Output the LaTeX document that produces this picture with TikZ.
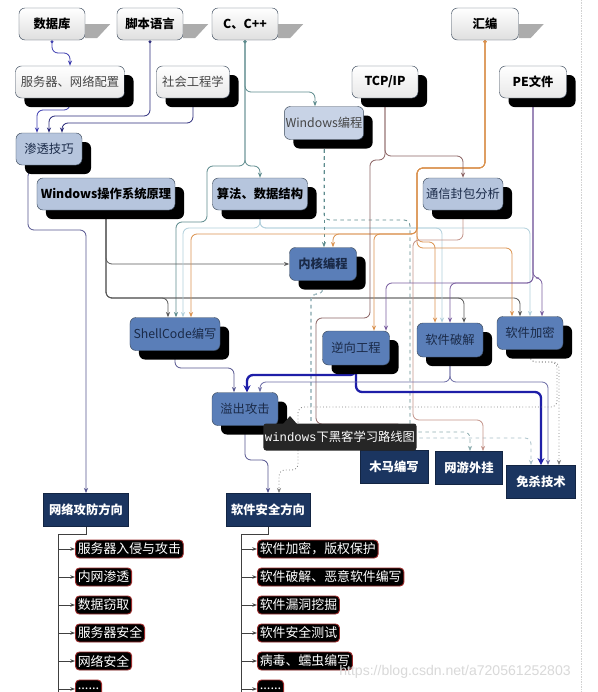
\documentclass[tikz,border=0pt]{standalone}
\usepackage{fontspec}
\setmainfont{Noto Sans CJK SC}
\newfontfamily\monofont{Liberation Mono}
\newfontfamily\latinfont{Liberation Sans}
\usetikzlibrary{arrows.meta,shadows,backgrounds}

\definecolor{boxline}{HTML}{3C4A5C}
\definecolor{paleblue}{HTML}{B6C5DD}
\definecolor{midblue}{HTML}{5A7EB8}
\definecolor{navy}{HTML}{1B3560}
\definecolor{textnavy}{HTML}{1A2A48}
\definecolor{lnblue}{HTML}{3E3EB0}
\definecolor{lnpen}{HTML}{55558F}
\definecolor{lnteal}{HTML}{5E8C8E}
\definecolor{lngray}{HTML}{5A5A5A}
\definecolor{lnorange}{HTML}{DB9350}
\definecolor{lnbrown}{HTML}{8C6464}
\definecolor{lnpurple}{HTML}{7A5FA0}
\definecolor{lnlight}{HTML}{B2D0DC}
\definecolor{lnpink}{HTML}{C4948A}
\definecolor{lnthick}{HTML}{1E1EA8}
\definecolor{lncrack}{HTML}{6E6EA6}
\definecolor{itemred}{HTML}{9A2A2A}

\tikzset{
  box/.style={draw=boxline, rounded corners=0.18cm, inner sep=1pt, minimum height=0.96cm,
    font=\fontsize{10.5}{12}\selectfont},
  bold/.style={font=\fontsize{10.5}{12}\selectfont\bfseries},
  shadowed/.style={drop shadow={shadow xshift=0.27cm, shadow yshift=-0.27cm, fill=black, opacity=1}},
  topbox/.style={box, top color=white, bottom color=gray!25},
  litebox/.style={box, shadowed, top color=white, bottom color=gray!18},
  palebox/.style={box, shadowed, fill=paleblue},
  midbox/.style={box, shadowed, fill=midblue, text=textnavy},
  navybox/.style={draw=navy!70!black, fill=navy, text=white, minimum height=1.0cm,
    font=\fontsize{10.5}{12}\selectfont\bfseries},
  itembox/.style={draw=itemred, fill=black, text=white, rounded corners=0.12cm, line width=0.8pt,
    anchor=west, minimum height=0.54cm, inner xsep=2pt, inner ysep=0pt,
    font=\fontsize{11}{12}\selectfont},
  link/.style={line width=0.7pt, rounded corners=0.18cm,
    {Circle[length=2.6pt]}-{Stealth[length=4.5pt,width=3.5pt]}},
  heavy/.style={line width=2pt, rounded corners=0.18cm,
    {Circle[length=4pt]}-{Stealth[length=6pt,width=6pt]}},
  trunk/.style={line width=0.8pt, black!75},
  flag/.style={fill=gray!65},
}

\begin{document}
\begin{tikzpicture}[x=0.03cm, y=-0.03cm]
    \useasboundingbox (0,0) rectangle (598,692);

    % 第一层
    \node[topbox, bold, minimum width=1.98cm] (db) at (52,24) {数据库};
    \node[topbox, bold, minimum width=1.98cm] (script) at (150,24) {脚本语言};
    \node[topbox, bold, minimum width=1.98cm] (cpp) at (245,24) {C、C++};
    \node[topbox, bold, minimum width=2.01cm] (asm) at (485,24) {汇编};
    \fill[flag] (db.east) -- ++(25,0) -- ++(-13,14) -- ++(-12,0) -- cycle;
    \fill[flag] (script.east) -- ++(25,0) -- ++(-13,14) -- ++(-12,0) -- cycle;
    \fill[flag] (cpp.east) -- ++(25,0) -- ++(-13,14) -- ++(-12,0) -- cycle;
    \fill[flag] (asm.east) -- ++(25,0) -- ++(-13,14) -- ++(-12,0) -- cycle;

    % 第二层
    \node[litebox, text=gray!55!black, minimum width=3.27cm] (srv) at (70,82) {服务器、网络配置};
    \node[litebox, text=gray!55!black, minimum width=2.19cm] (social) at (193,82) {社会工程学};
    \node[litebox, bold, minimum width=1.98cm] (tcp) at (385,82) {TCP/IP};
    \node[litebox, bold, minimum width=2.01cm] (pe) at (533,82) {PE文件};
    \node[palebox, fill=paleblue!75!white, text=gray!55!black, minimum width=2.34cm,
          minimum height=0.99cm] (wprog) at (324,123) {Windows编程};

    % 第三层
    \node[palebox, text=textnavy, minimum width=1.98cm] (pen) at (49,149) {渗透技巧};
    \node[palebox, bold, minimum width=4.14cm] (wos) at (106,194) {Windows操作系统原理};
    \node[palebox, bold, minimum width=2.85cm] (algo) at (260,194) {算法、数据结构};
    \node[palebox, text=textnavy, minimum width=2.4cm] (pkt) at (463,194) {通信封包分析};

    % 核心技术
    \node[midbox, bold, text=textnavy, minimum width=2.01cm, minimum height=0.99cm] (kern) at (323,264) {内核编程};
    \node[midbox, minimum width=2.7cm, minimum height=0.99cm] (sc) at (175,334) {ShellCode编写};
    \node[midbox, minimum width=2.01cm, minimum height=1.02cm] (rev) at (356,348) {逆向工程};
    \node[midbox, minimum width=1.98cm, minimum height=1.02cm] (crack) at (450,340) {软件破解};
    \node[midbox, minimum width=1.98cm, minimum height=0.99cm] (enc) at (530,333) {软件加密};
    \node[midbox, minimum width=1.98cm, minimum height=0.99cm] (ovf) at (245,409) {溢出攻击};

    % 应用方向
    \node[navybox, minimum width=2.04cm] (trojan) at (394,467) {木马编写};
    \node[navybox, minimum width=2.01cm] (game) at (469,468) {网游外挂};
    \node[navybox, minimum width=2.07cm] (av) at (541,482) {免杀技术};
    \node[navybox, minimum width=2.55cm] (netdir) at (86,510) {网络攻防方向};
    \node[navybox, minimum width=2.52cm] (swdir) at (268,510) {软件安全方向};

    % 网络攻防方向 列表
    \node[itembox] (n1) at (75,549) {服务器入侵与攻击};
    \node[itembox] (n2) at (75,577) {内网渗透};
    \node[itembox] (n3) at (75,605) {数据窃取};
    \node[itembox] (n4) at (75,633) {服务器安全};
    \node[itembox] (n5) at (75,661) {网络安全};
    \node[itembox] (n6) at (75,689) {......};

    % 软件安全方向 列表
    \node[itembox] (s1) at (257,549) {软件加密，版权保护};
    \node[itembox] (s2) at (257,577) {软件破解、恶意软件编写};
    \node[itembox] (s3) at (257,605) {软件漏洞挖掘};
    \node[itembox] (s4) at (257,633) {软件安全测试};
    \node[itembox] (s5) at (257,661) {病毒、蠕虫编写};
    \node[itembox] (s6) at (257,689) {......};

    \coordinate (nend) at (58,692);
    \coordinate (send) at (241,692);

    \begin{scope}[on background layer]
        \fill[white] (0,0) rectangle (598,692);
        \draw[gray!35, densely dotted] (581,0) -- (581,692);

        % 数据库 脚本语言 社会工程学
        \draw[link, lnblue] (db.south) |- (70,53) -- (srv.north);
        \draw[link, lnblue] (srv.south) |- (37,110) -- (pen.north -| 37,0);
        \draw[link, lnblue!70!black] (script.south) |- (49,116) -- (pen.north);
        \draw[link, lnblue!70!black] (social.south) |- (62,123) -- (pen.north -| 62,0);
        \draw[link, lnpen] (pen.south) |- (28,170) |- (86,230) -- (netdir.north);

        % C、C++
        \draw[link, lnteal] (cpp.south) |- (315,92) -- (wprog.north -| 315,0);
        \draw[link, lnteal] (cpp.south) |- (260,166) -- (algo.north);
        \draw[link, lnteal] (cpp.south) |- (207,166) |- (176,222) -- (sc.north -| 176,0);

        % Windows操作系统原理
        \draw[link, lngray] (wos.south) |- (kern.west);
        \draw[link, lngray] (wos.south) |- (168,298) -- (sc.north -| 168,0);
        \draw[link, lngray] (wos.south) |- (464,298) -- (crack.north -| 464,0);
        \draw[link, lngray] (wos.south) |- (520,298) -- (enc.north -| 520,0);

        % 算法、数据结构
        \draw[link, lnlight] (algo.south) |- (183,228) -- (sc.north -| 183,0);
        \draw[link, lnlight] (algo.south) |- (442,228) -- (crack.north -| 442,0);
        \draw[link, lnlight] (algo.south) |- (530,228) -- (enc.north -| 530,0);

        % Windows编程 内核编程
        \draw[link, lnteal, dashed] (wprog.south) -- (kern.north -| wprog.south);
        \draw[link, lnteal, dashed] (wprog.south) |- (410,220) -- (trojan.north -| 410,0);
        \draw[link, lnteal, dashed] (kern.south) |- (311,294) |- (395,430) -- (trojan.north -| 395,0);
        \draw[link, lnteal!70, dashed] (kern.south) |- (311,294) |- (470,432) -- (game.north -| 470,0);
        \draw[link, lnlight!80!gray, dashed] (kern.south) |- (311,294) |- (531,438) -- (av.north -| 531,0);

        % 汇编
        \draw[link, lnorange] (asm.south) |- (417,168) |- (333,234) -- (kern.north -| 333,0);
        \draw[link, lnorange] (asm.south) |- (417,168) |- (191,234) -- (sc.north -| 191,0);
        \draw[link, lnorange] (asm.south) |- (417,168) |- (374,234) -- (rev.north -| 374,0);
        \draw[link, lnorange] (asm.south) |- (417,168) |- (435,242) -- (crack.north -| 435,0);
        \draw[link, lnorange] (asm.south) |- (417,168) |- (512,248) -- (enc.north -| 512,0);

        % TCP/IP 通信封包分析
        \draw[link, lnbrown] (tcp.south) |- (463,156) -- (pkt.north);
        \draw[link, lnbrown] (tcp.south) |- (370,160) |- (316,318) |- (403,424) -- (trojan.north -| 403,0);
        \draw[link, lnpink] (pkt.south) |- (413,240) |- (483,420) -- (game.north -| 483,0);

        % PE文件
        \draw[link, lnpurple] (pe.south) |- (386,283) -- (rev.north -| 386,0);
        \draw[link, lnpurple] (pe.south) |- (450,283) -- (crack.north -| 450,0);
        \draw[link, lnpurple] (pe.south) |- (542,278) -- (enc.north -| 542,0);

        % 溢出攻击 免杀技术
        \draw[link, lnpen] (sc.south) |- (234,368) -- (ovf.north -| 234,0);
        \draw[heavy, lnthick] (rev.south) |- (247,375) -- (ovf.north -| 247,0);
        \draw[heavy, lnthick] (rev.south) |- (541,392) -- (av.north -| 541,0);
        \draw[link, lncrack] (crack.south) |- (260,382) -- (ovf.north -| 260,0);
        \draw[link, lncrack] (crack.south) |- (548,382) -- (av.north -| 548,0);
        \draw[link, gray, dotted] (enc.south) |- (559,362) -- (av.north -| 559,0);
        \draw[link, gray, dotted] (enc.south) |- (557,362) |- (298,407) |- (279,470) -- (swdir.north -| 279,0);
        \draw[link, lnpen] (ovf.south) |- (268,460) -- (swdir.north);

        % 列表
        \draw[trunk] (netdir.south) -- ++(0,8) -| (nend);
        \draw[trunk] (swdir.south) -- ++(0,8) -| (send);
    \end{scope}

    \draw[trunk, -{Stealth[length=4pt]}] (n1.west -| nend) -- (n1.west);
    \draw[trunk, -{Stealth[length=4pt]}] (n2.west -| nend) -- (n2.west);
    \draw[trunk, -{Stealth[length=4pt]}] (n3.west -| nend) -- (n3.west);
    \draw[trunk, -{Stealth[length=4pt]}] (n4.west -| nend) -- (n4.west);
    \draw[trunk, -{Stealth[length=4pt]}] (n5.west -| nend) -- (n5.west);
    \draw[trunk, -{Stealth[length=4pt]}] (n6.west -| nend) -- (n6.west);
    \draw[trunk, -{Stealth[length=4pt]}] (s1.west -| send) -- (s1.west);
    \draw[trunk, -{Stealth[length=4pt]}] (s2.west -| send) -- (s2.west);
    \draw[trunk, -{Stealth[length=4pt]}] (s3.west -| send) -- (s3.west);
    \draw[trunk, -{Stealth[length=4pt]}] (s4.west -| send) -- (s4.west);
    \draw[trunk, -{Stealth[length=4pt]}] (s5.west -| send) -- (s5.west);
    \draw[trunk, -{Stealth[length=4pt]}] (s6.west -| send) -- (s6.west);

    % 提示框
    \fill[black!85] (283,424) -- (290,416) -- (297,424) -- cycle;
    \node[fill=black!85, text=white, rounded corners=0.08cm, minimum width=4.59cm, minimum height=0.81cm,
          inner sep=1pt, font=\fontsize{10.5}{12}\selectfont] (tip) at (340,437)
          {{\monofont windows}下黑客学习路线图};

    \node[text=gray!30, font=\latinfont\fontsize{12}{14}\selectfont] (mark) at (455,672)
          {https://blog.csdn.net/a720561252803};
\end{tikzpicture}
\end{document}
